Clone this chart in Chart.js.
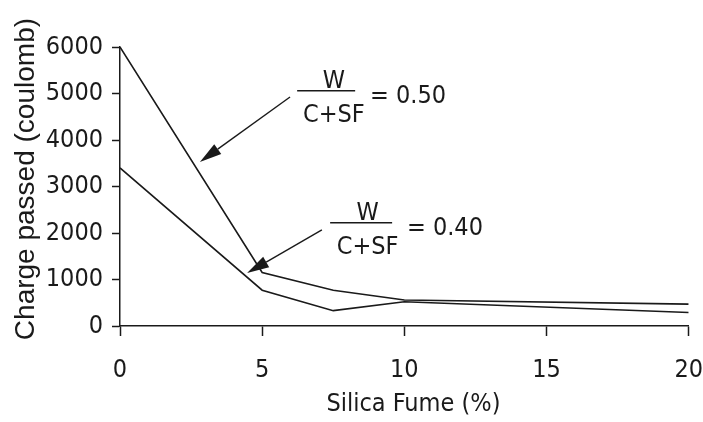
<!DOCTYPE html>
<html>
<head>
<meta charset="utf-8">
<script src="https://cdn.jsdelivr.net/npm/chart.js@4"></script>
<style>
  html, body { margin: 0; padding: 0; background: #fff; }
  #wrap { width: 703px; height: 422px; }
</style>
</head>
<body>
<div id="wrap"><canvas id="chargeChart"></canvas></div>
<script>
// silica fume content (%) and charge passed (coulomb)
const silicaFume = [0, 5, 7.5, 10, 20];
const charge050 = [6000, 1150, 770, 560, 470];   // W/(C+SF) = 0.50
const charge040 = [3400, 770, 330, 520, 290];    // W/(C+SF) = 0.40
const xTicks = [0, 5, 10, 15, 20];
const yTicks = [0, 1000, 2000, 3000, 4000, 5000, 6000];

const narrow = "'Liberation Sans Narrow', 'DejaVu Sans Condensed', 'Liberation Sans', Arial, sans-serif";
const ink = '#1a1a1a';

// labels with arrows, placed in data units
const notes = [
  { value: '= 0.50', barFrom: 6.23, barTo: 8.27, barY: 5060, textX: 7.52, valueX: 8.79, tail: [5.98, 4925], tip: [2.81, 3527] },
  { value: '= 0.40', barFrom: 7.39, barTo: 9.57, barY: 2222, textX: 8.71, valueX: 10.09, tail: [7.10, 2065], tip: [4.47, 1140] },
];

const toPoints = (ys) => silicaFume.map((v, i) => ({ x: v, y: ys[i] }));

const annotate = {
  id: 'annotate',
  afterDraw(chart) {
    const { ctx, scales: { x, y }, chartArea } = chart;
    ctx.save();
    ctx.fillStyle = ink;
    ctx.strokeStyle = ink;
    notes.forEach((n) => {
      const by = y.getPixelForValue(n.barY);
      // fraction bar
      ctx.lineWidth = 1.5;
      ctx.beginPath();
      ctx.moveTo(x.getPixelForValue(n.barFrom), by);
      ctx.lineTo(x.getPixelForValue(n.barTo), by);
      ctx.stroke();
      ctx.font = '25px ' + narrow;
      ctx.textAlign = 'center';
      ctx.textBaseline = 'alphabetic';
      const tx = x.getPixelForValue(n.textX);
      ctx.fillText('W', tx, by - 2.5);
      ctx.fillText('C+SF', tx, by + 31);
      ctx.textAlign = 'left';
      ctx.fillText(n.value, x.getPixelForValue(n.valueX), by + 12.5);

      // arrow
      const x0 = x.getPixelForValue(n.tail[0]), y0 = y.getPixelForValue(n.tail[1]);
      const x1 = x.getPixelForValue(n.tip[0]), y1 = y.getPixelForValue(n.tip[1]);
      const ang = Math.atan2(y1 - y0, x1 - x0);
      const len = 22, half = 6;
      const bx = x1 - len * Math.cos(ang), byy = y1 - len * Math.sin(ang);
      ctx.lineWidth = 1.4;
      ctx.beginPath();
      ctx.moveTo(x0, y0);
      ctx.lineTo(bx, byy);
      ctx.stroke();
      ctx.beginPath();
      ctx.moveTo(x1, y1);
      ctx.lineTo(bx + half * Math.sin(ang), byy - half * Math.cos(ang));
      ctx.lineTo(bx - half * Math.sin(ang), byy + half * Math.cos(ang));
      ctx.closePath();
      ctx.fill();
    });

    // axis titles
    ctx.textAlign = 'center';
    ctx.textBaseline = 'middle';
    ctx.font = '25px ' + narrow;
    ctx.fillText('Silica Fume (%)', x.getPixelForValue(10.32), chartArea.bottom + 78);
    ctx.translate(26, y.getPixelForValue(3160));
    ctx.rotate(-Math.PI / 2);
    ctx.font = "28px 'Liberation Sans', Arial, sans-serif";
    ctx.fillText('Charge passed (coulomb)', 0, 0);
    ctx.restore();
  }
};

const lineStyle = {
  borderColor: ink,
  borderWidth: 1.6,
  pointRadius: 0,
  tension: 0,
  fill: false,
};

const config = {
  type: 'line',
  data: {
    datasets: [
      { label: 'W/(C+SF) = 0.50', data: toPoints(charge050), ...lineStyle },
      { label: 'W/(C+SF) = 0.40', data: toPoints(charge040), ...lineStyle },
    ],
  },
  options: {
    responsive: false,
    animation: false,
    layout: { padding: { top: 47, right: 0, left: 0, bottom: 0 } },
    plugins: {
      legend: { display: false },
      tooltip: { enabled: false },
    },
    scales: {
      x: {
        type: 'linear',
        min: 0,
        max: 20,
        afterBuildTicks: (s) => { s.ticks = xTicks.map((v) => ({ value: v })); },
        afterFit: (s) => { s.height = 96; },
        ticks: { color: ink, padding: 0, font: { family: narrow, size: 25, lineHeight: 2.72 }, callback: (v) => String(v) },
        grid: { drawOnChartArea: false, drawTicks: true, tickLength: 10, tickWidth: 1.5, color: ink },
        border: { display: true, color: ink, width: 1.5 },
      },
      y: {
        min: 0,
        max: 6000,
        afterBuildTicks: (s) => { s.ticks = yTicks.map((v) => ({ value: v })); },
        afterFit: (s) => { s.width = 120; },
        ticks: { color: ink, padding: 9, font: { family: narrow, size: 25 }, callback: (v) => String(v) },
        grid: { drawOnChartArea: false, drawTicks: true, tickLength: 8, tickWidth: 1.5, color: ink },
        border: { display: true, color: ink, width: 1.5 },
      },
    },
  },
  plugins: [annotate],
};

const canvas = document.getElementById('chargeChart');
canvas.width = 703;
canvas.height = 422;
const chargeChart = new Chart(canvas.getContext('2d'), config);
</script>
</body>
</html>
